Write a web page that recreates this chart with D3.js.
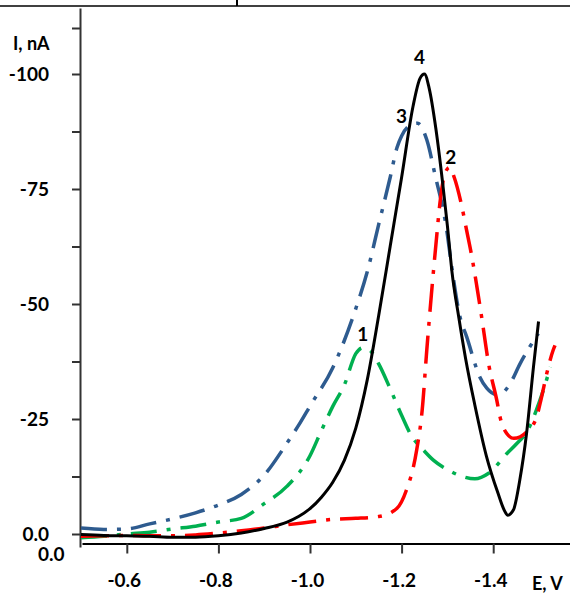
<!DOCTYPE html>
<html>
<head>
<meta charset="utf-8">
<script src="https://cdn.jsdelivr.net/npm/d3@7/dist/d3.min.js"></script>
<style>
  html, body { margin: 0; padding: 0; background: #fff; }
  svg { display: block; font-family: Lato, "Liberation Sans", sans-serif; font-weight: bold; }
</style>
</head>
<body>
<svg id="chart" width="570" height="593"></svg>
<script>
// Potential (V) and current (nA) for each voltammogram
const potential1 = [-0.50, -0.55, -0.60, -0.65, -0.70, -0.75, -0.80, -0.85, -0.90, -0.95, -1.00, -1.025, -1.05, -1.075, -1.10, -1.115, -1.13, -1.15, -1.175, -1.20, -1.22, -1.25, -1.27, -1.30, -1.33, -1.36, -1.39, -1.43, -1.45, -1.475, -1.50, -1.525];
const current1   = [0.8, 0.5, 0.0, -0.4, -1.1, -1.7, -2.6, -3.4, -6.6, -10.4, -17.0, -22.5, -27.8, -32.4, -39.2, -40.5, -40.0, -37.0, -31.6, -25.8, -21.6, -18.0, -16.0, -14.0, -12.6, -12.0, -13.2, -17.5, -19.5, -22.5, -28.5, -36.3];

const potential2 = [-0.50, -0.55, -0.60, -0.65, -0.70, -0.75, -0.80, -0.85, -0.90, -0.95, -1.00, -1.05, -1.10, -1.15, -1.19, -1.21, -1.233, -1.245, -1.255, -1.265, -1.275, -1.285, -1.295, -1.305, -1.315, -1.33, -1.342, -1.353, -1.364, -1.375, -1.39, -1.408, -1.415, -1.43, -1.445, -1.473, -1.495, -1.505, -1.517, -1.531, -1.535];
const current2   = [0.5, 0.4, 0.3, 0.4, 0.4, 0.2, -0.2, -0.7, -1.3, -2.0, -2.6, -3.2, -3.4, -3.8, -5.6, -9.4, -18.3, -27.0, -40.0, -52.0, -63.0, -73.0, -78.5, -79.7, -77.5, -71.9, -66.0, -60.5, -54.0, -47.0, -37.0, -29.0, -25.4, -21.8, -20.8, -22.2, -25.5, -29.5, -34.9, -40.0, -41.0];

const potential3 = [-0.50, -0.55, -0.60, -0.65, -0.70, -0.75, -0.80, -0.85, -0.90, -0.95, -0.978, -1.00, -1.05, -1.10, -1.125, -1.15, -1.175, -1.19, -1.20, -1.215, -1.235, -1.255, -1.273, -1.2985, -1.3094, -1.3275, -1.342, -1.371, -1.386, -1.411, -1.437, -1.4585, -1.48, -1.4985];
const current3   = [-1.3, -1.0, -1.1, -2.2, -3.3, -4.6, -6.3, -8.6, -12.8, -19.8, -24.1, -27.8, -36.2, -49.0, -57.0, -67.3, -77.5, -84.0, -86.5, -88.6, -89.3, -85.7, -78.1, -66.1, -58.1, -47.2, -42.9, -34.1, -31.7, -30.2, -32.7, -37.0, -40.7, -43.6];

const potential4 = [-0.50, -0.55, -0.60, -0.65, -0.70, -0.75, -0.80, -0.85, -0.90, -0.95, -0.975, -1.00, -1.025, -1.05, -1.075, -1.10, -1.125, -1.15, -1.175, -1.20, -1.225, -1.24, -1.25, -1.26, -1.275, -1.29, -1.30, -1.31, -1.325, -1.34, -1.36, -1.385, -1.41, -1.425, -1.432, -1.444, -1.458, -1.473, -1.488, -1.499];
const current4   = [0.1, 0.3, 0.4, 0.5, 0.7, 0.7, 0.4, -0.2, -1.2, -2.6, -3.8, -5.5, -8.0, -11.3, -16.0, -23.0, -33.5, -47.5, -62.5, -77.5, -93.0, -99.0, -100.0, -97.0, -88.0, -76.0, -67.0, -57.0, -47.0, -38.0, -28.0, -17.0, -9.0, -5.0, -4.1, -5.2, -11.7, -22.0, -36.4, -46.2];

const curveNames = ["1", "2", "3", "4"];

// Axis ticks
const yTickValues = [0, -12.5, -25, -37.5, -50, -62.5, -75, -87.5, -100, -110];
const yTickLabels = {"0": "0.0", "-25": "-25", "-50": "-50", "-75": "-75", "-100": "-100"};
const xTickValues = [-0.6, -0.8, -1.0, -1.2, -1.4];
const xTickLabels = ["-0.6", "-0.8", "-1.0", "-1.2", "-1.4"];

const svg = d3.select("#chart");

const x = d3.scaleLinear().domain([-0.5, -1.5]).range([81, 539]);
const y = d3.scaleLinear().domain([0, -100]).range([534, 74]);

// frame rule across the top
svg.append("line").attr("x1", 0).attr("x2", 570).attr("y1", 6).attr("y2", 6)
  .attr("stroke", "#000").attr("stroke-width", 1.6);
svg.append("line").attr("x1", 237).attr("x2", 237).attr("y1", 0).attr("y2", 6)
  .attr("stroke", "#000").attr("stroke-width", 2);

// y axis
const yAxisScale = y.copy().domain([y.invert(547), y.invert(8)]).range([547, 8]);
const yAxis = d3.axisLeft(yAxisScale)
  .tickValues(yTickValues)
  .tickSize(8)
  .tickSizeOuter(0)
  .tickPadding(23)
  .tickFormat(d => yTickLabels[String(d)] || "");
const gy = svg.append("g").attr("transform", "translate(80,0)").call(yAxis);
gy.select(".domain").attr("stroke", "#333").attr("stroke-width", 2);
gy.selectAll(".tick line").attr("stroke", "#333").attr("stroke-width", 2);
gy.selectAll(".tick text").attr("font-size", 19).attr("font-family", "Lato, 'Liberation Sans', sans-serif")
  .attr("font-weight", "bold").attr("fill", "#000");

// x axis
const xAxisScale = x.copy().domain([x.invert(82), x.invert(570)]).range([82, 570]);
const xAxis = d3.axisBottom(xAxisScale)
  .tickValues(xTickValues)
  .tickSize(10)
  .tickSizeOuter(0)
  .tickPadding(20)
  .tickFormat((d, i) => xTickLabels[i]);
const gx = svg.append("g").attr("transform", "translate(0,543.5)").call(xAxis);
gx.select(".domain").attr("stroke", "#000").attr("stroke-width", 2);
gx.selectAll(".tick line").attr("stroke", "#333").attr("stroke-width", 2);
gx.selectAll(".tick text").attr("font-size", 19).attr("font-family", "Lato, 'Liberation Sans', sans-serif")
  .attr("font-weight", "bold").attr("fill", "#000").attr("dx", -3);

// axis titles
svg.append("text").attr("x", 13).attr("y", 50).attr("font-size", 18).text("I, nA");
svg.append("text").attr("x", 38).attr("y", 561).attr("font-size", 19).text("0.0");
svg.append("text").attr("x", 532).attr("y", 590).attr("font-size", 18).text("E, V");

// voltammograms
const line = d3.line()
  .x(d => x(d[0]))
  .y(d => y(d[1]))
  .curve(d3.curveMonotoneX);

const series = [
  { name: curveNames[2], pts: d3.zip(potential3, current3), color: "#2e5b8f", dash: "26,10,4,10", width: 3.5, off: [-16, -7] },
  { name: curveNames[0], pts: d3.zip(potential1, current1), color: "#00b050", dash: "26,10,4,10", width: 3.5, off: [0, -14] },
  { name: curveNames[1], pts: d3.zip(potential2, current2), color: "#ff0000", dash: "28,10,4,10", width: 3.5, off: [1, -10] },
  { name: curveNames[3], pts: d3.zip(potential4, current4), color: "#000000", dash: null, width: 3, off: [-5, -17] }
];

series.forEach(s => {
  svg.append("path")
    .datum(s.pts)
    .attr("d", line)
    .attr("fill", "none")
    .attr("stroke", s.color)
    .attr("stroke-width", s.width)
    .attr("stroke-dasharray", s.dash)
    .attr("stroke-linejoin", "round");
});

// curve numbers above each peak
series.forEach(s => {
  const peak = s.pts.reduce((a, b) => (b[1] < a[1] ? b : a));
  svg.append("text")
    .attr("x", x(peak[0]) + s.off[0])
    .attr("y", y(peak[1]) + s.off[1] + 7)
    .attr("text-anchor", "middle")
    .attr("font-size", 19)
    .attr("fill", "#000")
    .text(s.name);
});
</script>
</body>
</html>
